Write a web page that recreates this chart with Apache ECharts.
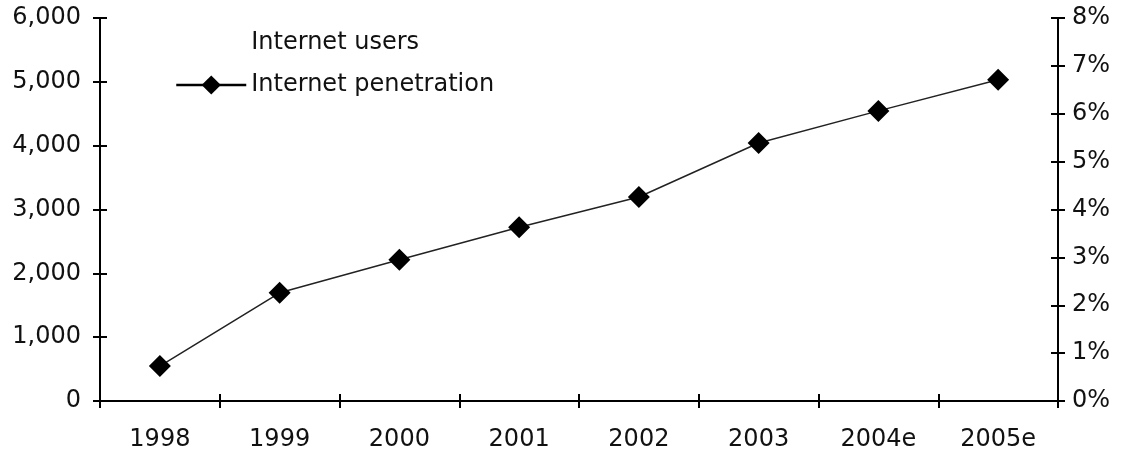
<!DOCTYPE html>
<html><head><meta charset="utf-8">
<script src="https://cdn.jsdelivr.net/npm/echarts@6/dist/echarts.min.js"></script>
<style>html,body{margin:0;padding:0;background:#fff}#c{width:1126px;height:458px}</style>
</head><body><div id="c"></div>
<script>
const categories = ['1998','1999','2000','2001','2002','2003','2004e','2005e'];
const penetration = [0.73, 2.26, 2.95, 3.63, 4.26, 5.39, 6.06, 6.71];
const users = [];
const leftTicks = [0, 1000, 2000, 3000, 4000, 5000, 6000];
const rightTicks = [0, 1, 2, 3, 4, 5, 6, 7, 8];

const FONT = 'DejaVu Sans';
const lab = {color:'#111', fontFamily:FONT, fontSize:24};
const axLine = {show:true, lineStyle:{color:'#000', width:2}};
const chart = echarts.init(document.getElementById('c'));
function yAx(pos, max, interval, inside, labels, fmt, margin){
  return {type:'value', position:pos, min:0, max:max, interval:interval,
    axisLine: inside ? {show:false} : axLine,
    axisTick:{show:true, inside:inside, length:7, lineStyle:{color:'#000', width:2}},
    axisLabel: labels ? Object.assign({show:true, margin:margin, formatter:fmt}, lab) : {show:false},
    splitLine:{show:false}};
}
chart.setOption({
  animation:false,
  backgroundColor:'#fff',
  grid:{left:100, right:68, top:18, bottom:57},
  legend:{orient:'vertical', left:170, top:26, itemGap:18, itemWidth:70, itemHeight:24,
    textStyle:{color:'#111', fontFamily:FONT, fontSize:24},
    data:[{name:'Internet users', icon:'none'},
          {name:'Internet penetration', lineStyle:{width:2.5, color:'#000'}}]},
  xAxis:[
    {type:'category', data:categories, boundaryGap:true,
     axisLine:axLine, axisTick:{show:true, length:7, lineStyle:{color:'#000', width:2}},
     axisLabel:Object.assign({margin:27}, lab)},
    {type:'category', data:categories, boundaryGap:true, position:'bottom',
     axisLine:{show:false}, axisTick:{show:true, inside:true, length:7, lineStyle:{color:'#000', width:2}},
     axisLabel:{show:false}}
  ],
  yAxis:[
    yAx('left', 6000, 1000, false, true, v => v.toLocaleString('en-US'), 19),
    yAx('right', 8, 1, false, true, v => v + '%', 14),
    yAx('left', 6000, 1000, true, false),
    yAx('right', 8, 1, true, false)
  ],
  series:[
    {name:'Internet users', type:'bar', data:users, yAxisIndex:0, itemStyle:{color:'#fff'}},
    {name:'Internet penetration', type:'line', yAxisIndex:1, data:penetration,
     symbol:'diamond', symbolSize:[22,22], itemStyle:{color:'#000'},
     lineStyle:{color:'#222', width:1.5}}
  ]
});
</script></body></html>
